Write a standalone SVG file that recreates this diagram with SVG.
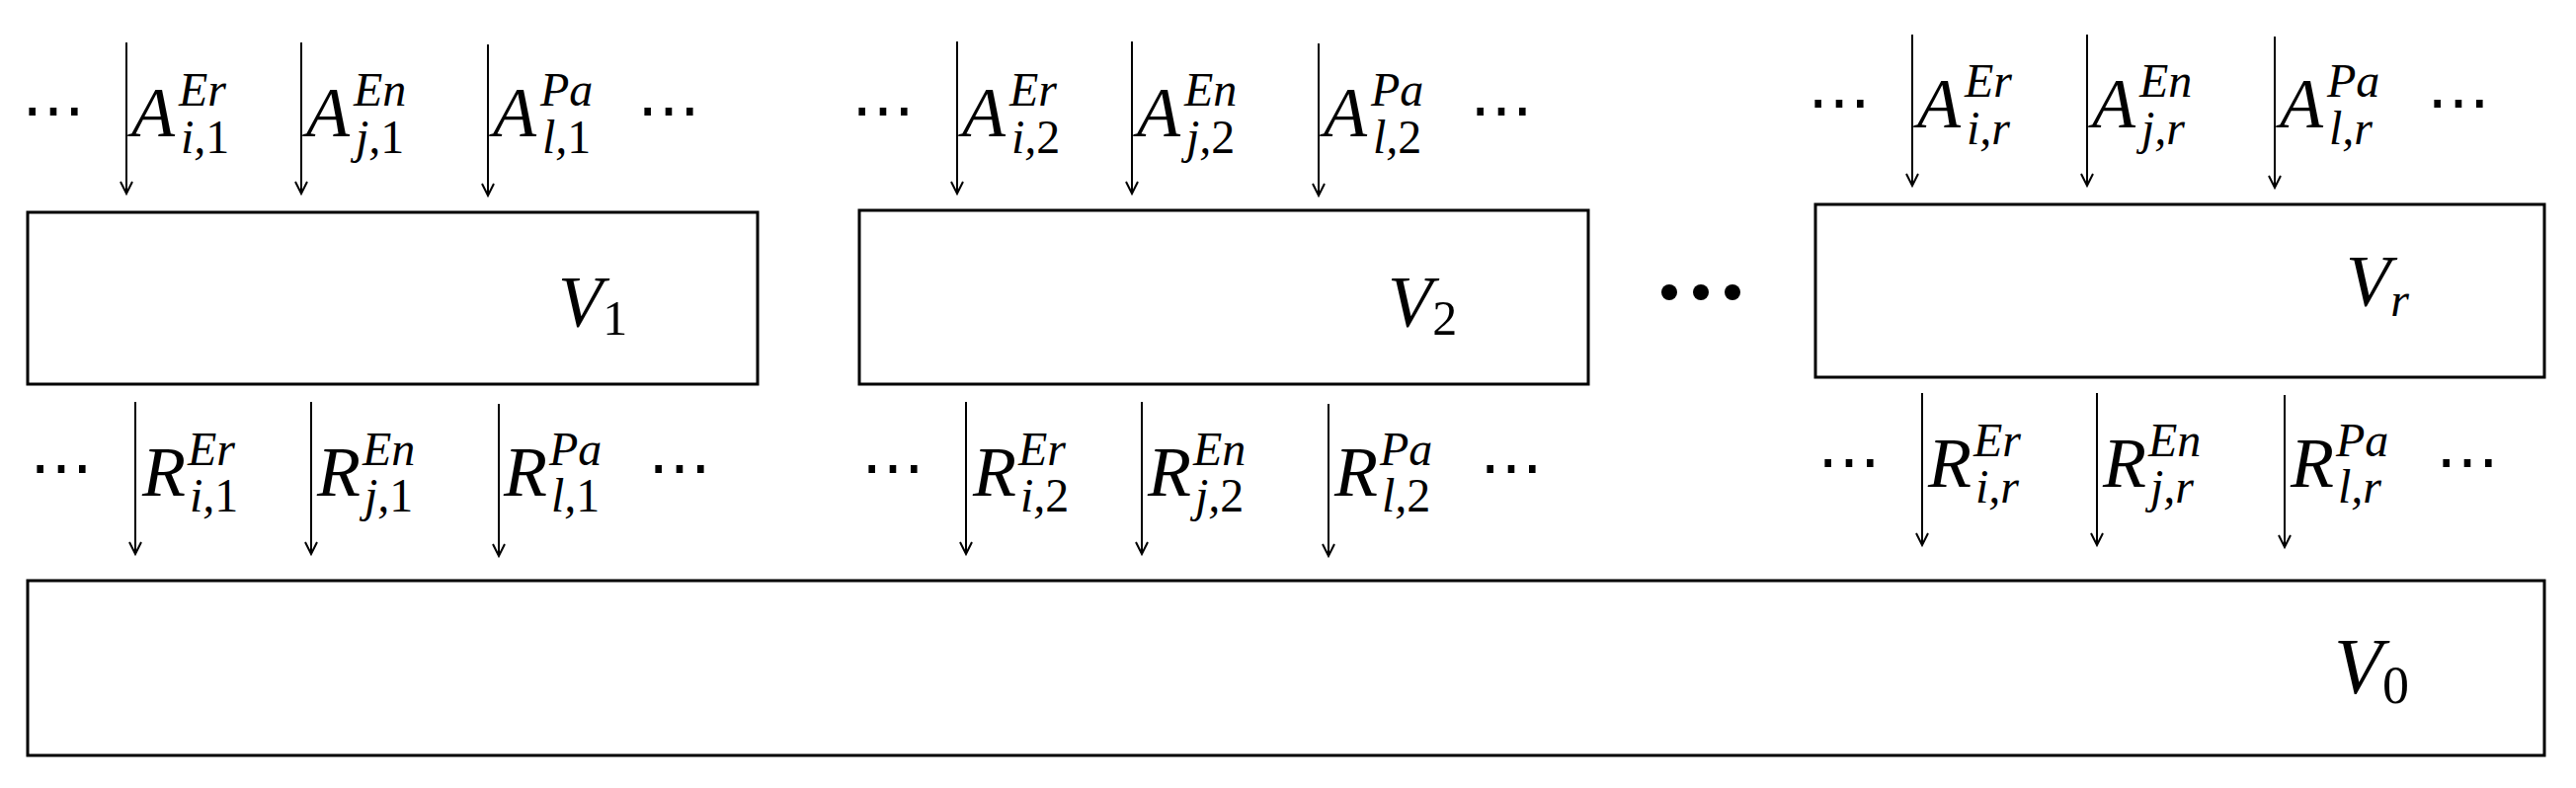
<svg xmlns="http://www.w3.org/2000/svg" width="2608" height="798" viewBox="0 0 2608 798">
<style>
text{font-family:"Liberation Serif",serif;fill:#000}
.m{font-size:72px;font-style:italic}
.s{font-size:48px;font-style:italic}
.u{font-style:normal}
.v{font-size:74px;font-style:italic}
.vs{font-size:50px;font-style:normal}
.d{font-size:64px}
rect{fill:#fff;stroke:#000;stroke-width:3}
line{stroke:#000;stroke-width:2}
</style>
<defs><marker id="ah" markerWidth="16" markerHeight="16" refX="13" refY="7" orient="auto" markerUnits="userSpaceOnUse"><path d="M1,1 L13,7 L1,13" fill="none" stroke="#000" stroke-width="2"/></marker></defs>
<g id="V1"><rect x="28" y="215" width="739" height="174"/><text class="v" x="565" y="331">V<tspan class="vs" dy="8">1</tspan></text></g>
<g id="V2"><rect x="870" y="213" width="738" height="176"/><text class="v" x="1405" y="331">V<tspan class="vs" dy="8">2</tspan></text></g>
<g id="Vr"><rect x="1838" y="207" width="738" height="175"/><text class="v" x="2375" y="310">V<tspan class="s" dy="10">r</tspan></text></g>
<g id="V0"><rect x="28" y="588" width="2548" height="177"/><text class="v" x="2363" y="702" style="font-size:80px">V<tspan class="vs" dy="10" style="font-size:54px">0</tspan></text></g>
<g id="mid-dots"><circle cx="1690" cy="296" r="8"/><circle cx="1722" cy="296" r="8"/><circle cx="1754" cy="296" r="8"/></g>
<g id="connectors">
<line x1="128" y1="43" x2="128" y2="196" marker-end="url(#ah)"/><line x1="305" y1="43" x2="305" y2="196" marker-end="url(#ah)"/><line x1="494" y1="45" x2="494" y2="198" marker-end="url(#ah)"/>
<line x1="137" y1="407" x2="137" y2="561" marker-end="url(#ah)"/><line x1="315" y1="407" x2="315" y2="561" marker-end="url(#ah)"/><line x1="505" y1="409" x2="505" y2="563" marker-end="url(#ah)"/>
<line x1="969" y1="42" x2="969" y2="196" marker-end="url(#ah)"/><line x1="1146" y1="42" x2="1146" y2="196" marker-end="url(#ah)"/><line x1="1335" y1="44" x2="1335" y2="198" marker-end="url(#ah)"/>
<line x1="978" y1="407" x2="978" y2="561" marker-end="url(#ah)"/><line x1="1156" y1="407" x2="1156" y2="561" marker-end="url(#ah)"/><line x1="1345" y1="409" x2="1345" y2="563" marker-end="url(#ah)"/>
<line x1="1936" y1="35" x2="1936" y2="188" marker-end="url(#ah)"/><line x1="2113" y1="35" x2="2113" y2="188" marker-end="url(#ah)"/><line x1="2303" y1="37" x2="2303" y2="190" marker-end="url(#ah)"/>
<line x1="1946" y1="398" x2="1946" y2="552" marker-end="url(#ah)"/><line x1="2123" y1="398" x2="2123" y2="552" marker-end="url(#ah)"/><line x1="2313" y1="400" x2="2313" y2="554" marker-end="url(#ah)"/>
</g>
<g id="labels">
<text class="d" x="22" y="133">⋯</text><text class="d" x="645" y="133">⋯</text>
<text class="d" x="30" y="495">⋯</text><text class="d" x="656" y="495">⋯</text>
<text class="d" x="862" y="133">⋯</text><text class="d" x="1488" y="133">⋯</text>
<text class="d" x="872" y="495">⋯</text><text class="d" x="1498" y="495">⋯</text>
<text class="d" x="1830" y="125">⋯</text><text class="d" x="2457" y="125">⋯</text>
<text class="d" x="1840" y="489">⋯</text><text class="d" x="2466" y="489">⋯</text>

<text class="m" x="133" y="138">A</text><text class="s" x="181" y="107">Er</text><text class="s" x="183" y="155">i,<tspan class="u">1</tspan></text>
<text class="m" x="310" y="138">A</text><text class="s" x="358" y="107">En</text><text class="s" x="360" y="155">j,<tspan class="u">1</tspan></text>
<text class="m" x="499" y="138">A</text><text class="s" x="547" y="107">Pa</text><text class="s" x="549" y="155">l,<tspan class="u">1</tspan></text>
<text class="m" x="144" y="502">R</text><text class="s" x="190" y="471">Er</text><text class="s" x="192" y="518">i,<tspan class="u">1</tspan></text>
<text class="m" x="321" y="502">R</text><text class="s" x="367" y="471">En</text><text class="s" x="369" y="518">j,<tspan class="u">1</tspan></text>
<text class="m" x="510" y="502">R</text><text class="s" x="556" y="471">Pa</text><text class="s" x="558" y="518">l,<tspan class="u">1</tspan></text>

<text class="m" x="974" y="138">A</text><text class="s" x="1022" y="107">Er</text><text class="s" x="1024" y="155">i,<tspan class="u">2</tspan></text>
<text class="m" x="1151" y="138">A</text><text class="s" x="1199" y="107">En</text><text class="s" x="1201" y="155">j,<tspan class="u">2</tspan></text>
<text class="m" x="1340" y="138">A</text><text class="s" x="1388" y="107">Pa</text><text class="s" x="1390" y="155">l,<tspan class="u">2</tspan></text>
<text class="m" x="985" y="502">R</text><text class="s" x="1031" y="471">Er</text><text class="s" x="1033" y="518">i,<tspan class="u">2</tspan></text>
<text class="m" x="1162" y="502">R</text><text class="s" x="1208" y="471">En</text><text class="s" x="1210" y="518">j,<tspan class="u">2</tspan></text>
<text class="m" x="1351" y="502">R</text><text class="s" x="1397" y="471">Pa</text><text class="s" x="1399" y="518">l,<tspan class="u">2</tspan></text>

<text class="m" x="1941" y="129">A</text><text class="s" x="1989" y="98">Er</text><text class="s" x="1991" y="146">i,r</text>
<text class="m" x="2118" y="129">A</text><text class="s" x="2166" y="98">En</text><text class="s" x="2168" y="146">j,r</text>
<text class="m" x="2308" y="129">A</text><text class="s" x="2356" y="98">Pa</text><text class="s" x="2358" y="146">l,r</text>
<text class="m" x="1952" y="493">R</text><text class="s" x="1998" y="462">Er</text><text class="s" x="2000" y="509">i,r</text>
<text class="m" x="2129" y="493">R</text><text class="s" x="2175" y="462">En</text><text class="s" x="2177" y="509">j,r</text>
<text class="m" x="2319" y="493">R</text><text class="s" x="2365" y="462">Pa</text><text class="s" x="2367" y="509">l,r</text>
</g>
</svg>
